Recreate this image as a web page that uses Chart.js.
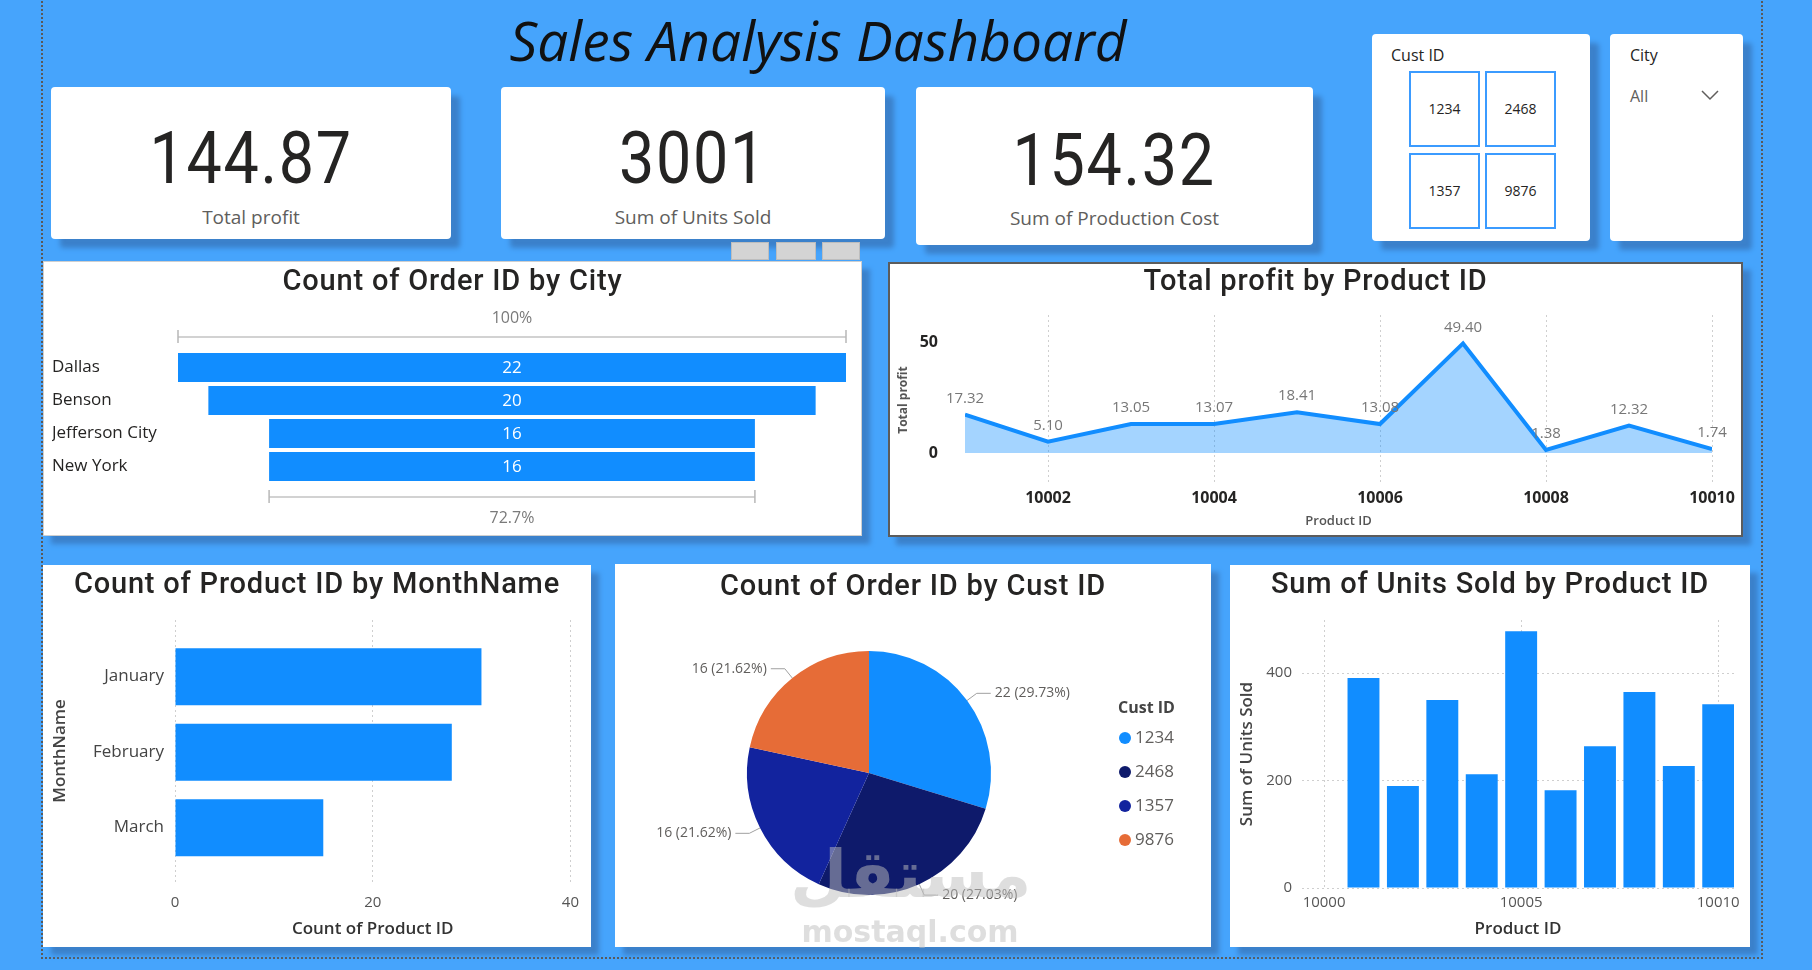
<!DOCTYPE html>
<html lang="en">
<head>
<meta charset="UTF-8">
<title>Sales Analysis Dashboard</title>
<script src="https://cdn.jsdelivr.net/npm/chart.js"></script>
<style>
  body { margin: 0; width: 1812px; height: 970px; background: #46a4fc; position: relative; overflow: hidden;
         font-family: "Segoe UI", "Open Sans", "Noto Sans", sans-serif; }
  .frame { position: absolute; left: 41px; top: -4px; width: 1718px; height: 961px; border: 2px dotted #5a5a5a; border-top: none; }
  .card { position: absolute; background: #fff; border-radius: 4px; box-shadow: 9px 9px 5px #3b81cb; }
  .kpi { position: absolute; left: 0; right: 0; text-align: center; font-family: Roboto, sans-serif; font-weight: 400;
         font-size: 73px; height: 80px; line-height: 80px; color: #252423; }
  .kpi span { display: inline-block; transform: scaleX(0.86); letter-spacing: 2px; }
  .kpi-label { position: absolute; left: 0; right: 0; text-align: center; font-size: 19px; height: 28px; line-height: 28px; color: #605e5c; }
  .panel { position: absolute; background: #fff; box-shadow: 8px 8px 5px #3b81cb; }
  .panel canvas { position: absolute; left: 0; top: 0; }
  .ptitle { position: absolute; left: 0; right: 0; text-align: center; font-family: Roboto, sans-serif; font-size: 29px;
            font-weight: 500; letter-spacing: 0.8px; height: 34px; line-height: 34px; color: #252423; }
  .tile { position: absolute; width: 67px; height: 72px; border: 2px solid #3b9bff; text-align: center; line-height: 72px;
          font-size: 14px; color: #252423; background: #fff; }
  .icon { position: absolute; top: 242px; height: 16px; background: #d4d4d4; border: 1px solid #bdbdbd; }
  .legend-item { position: absolute; left: 504px; font-size: 17px; color: #605e5c; height: 24px; line-height: 24px; }
  .legend-item span { display: inline-block; width: 12px; height: 12px; border-radius: 50%; margin-right: 4px; vertical-align: -1px; }
</style>
</head>
<body>

<div class="frame"></div>

<div style="position:absolute;left:418px;top:5px;width:800px;height:70px;line-height:70px;text-align:center;font-family:'Open Sans',sans-serif;font-style:italic;font-size:55px;color:#111;">Sales Analysis Dashboard</div>

<div class="card" style="left:51px;top:87px;width:400px;height:152px;">
  <div class="kpi" style="top:31px;"><span>144.87</span></div>
  <div class="kpi-label" style="top:116px;">Total profit</div>
</div>
<div class="card" style="left:501px;top:87px;width:384px;height:152px;">
  <div class="kpi" style="top:31px;"><span>3001</span></div>
  <div class="kpi-label" style="top:116px;">Sum of Units Sold</div>
</div>
<div class="card" style="left:916px;top:87px;width:397px;height:158px;">
  <div class="kpi" style="top:33px;"><span>154.32</span></div>
  <div class="kpi-label" style="top:117px;">Sum of Production Cost</div>
</div>

<div class="card" style="left:1372px;top:34px;width:218px;height:207px;">
  <div style="position:absolute;left:19px;top:10px;font-size:16px;color:#252423;">Cust ID</div>
  <div class="tile" style="left:37px;top:37px;">1234</div>
  <div class="tile" style="left:113px;top:37px;">2468</div>
  <div class="tile" style="left:37px;top:119px;">1357</div>
  <div class="tile" style="left:113px;top:119px;">9876</div>
</div>
<div class="card" style="left:1610px;top:34px;width:133px;height:207px;">
  <div style="position:absolute;left:20px;top:10px;font-size:16px;color:#252423;">City</div>
  <div style="position:absolute;left:20px;top:51px;font-size:16px;color:#605e5c;">All</div>
  <svg style="position:absolute;left:91px;top:55px;" width="18" height="12"><polyline points="1,2 9,10 17,2" fill="none" stroke="#605e5c" stroke-width="1.5"/></svg>
</div>

<div class="icon" style="left:731px;width:36px;"></div>
<div class="icon" style="left:776px;width:38px;"></div>
<div class="icon" style="left:822px;width:36px;"></div>

<div class="panel" style="left:43px;top:261px;width:819px;height:275px;outline:1px solid #cfcfcf;outline-offset:-1px;">
  <canvas id="funnelChart" width="819" height="275"></canvas>
  <div class="ptitle" style="top:2px;">Count of Order ID by City</div>
</div>

<div class="panel" style="left:888px;top:262px;width:855px;height:275px;outline:2px solid #5c5c5c;outline-offset:-2px;">
  <canvas id="profitChart" width="855" height="275"></canvas>
  <div class="ptitle" style="top:1px;">Total profit by Product ID</div>
</div>

<div class="panel" style="left:43px;top:565px;width:548px;height:382px;">
  <canvas id="monthChart" width="548" height="382"></canvas>
  <div class="ptitle" style="top:1px;">Count of Product ID by MonthName</div>
</div>

<div class="panel" style="left:615px;top:564px;width:596px;height:383px;">
  <canvas id="custChart" width="596" height="383"></canvas>
  <div class="ptitle" style="top:4px;">Count of Order ID by Cust ID</div>
  <div id="custLegend"></div>
</div>

<div class="panel" style="left:1230px;top:565px;width:520px;height:382px;">
  <canvas id="unitsChart" width="520" height="382"></canvas>
  <div class="ptitle" style="top:1px;">Sum of Units Sold by Product ID</div>
</div>

<!-- watermark over the pie panel -->
<div style="position:absolute;left:790px;top:835px;width:240px;text-align:center;pointer-events:none;color:rgba(190,190,190,0.5);">
  <div style="font-family:'DejaVu Sans',sans-serif;font-weight:bold;font-size:66px;line-height:80px;">مستقل</div>
  <div style="font-family:'DejaVu Sans',sans-serif;font-weight:bold;font-size:30px;line-height:34px;">mostaql.com</div>
</div>

<script>
    // ---- data ----
    const cities = ['Dallas', 'Benson', 'Jefferson City', 'New York'];
    const cityOrders = [22, 20, 16, 16];

    const productIds = [10001, 10002, 10003, 10004, 10005, 10006, 10007, 10008, 10009, 10010];
    const profit = [17.32, 5.10, 13.05, 13.07, 18.41, 13.08, 49.40, 1.38, 12.32, 1.74];
    const profitTicksX = [10002, 10004, 10006, 10008, 10010];
    const profitTicksY = [0, 50];

    const months = ['January', 'February', 'March'];
    const monthCounts = [31, 28, 15];
    const monthTicks = [0, 20, 40];

    const custIds = ['1234', '2468', '1357', '9876'];
    const custOrders = [22, 20, 16, 16];
    const custColors = ['#118DFF', '#0E1A6B', '#12239E', '#E66C37'];

    const unitsSold = [391, 190, 350, 212, 478, 182, 264, 365, 227, 342];
    const unitsTicksX = [10000, 10005, 10010];
    const unitsTicksY = [0, 200, 400];

    const BLUE = '#118DFF';
    const FONT = '"Segoe UI", "Open Sans", "Noto Sans", sans-serif';

    Chart.defaults.font.family = FONT;
    Chart.defaults.color = '#605e5c';
    Chart.defaults.animation = false;
    Chart.defaults.responsive = false;
    Chart.defaults.plugins.legend.display = false;
    Chart.defaults.plugins.tooltip.enabled = false;

    const setTicks = vals => scale => { scale.ticks = vals.map(v => ({ value: v })); };
    // dotted grid: in v4 the dash of grid lines lives under border
    const dotted = { color: '#cfcfcf', lineWidth: 1, drawTicks: false };
    const dottedBorder = { display: false, dash: [2, 3] };

    // ---- funnel: count of order id by city ----
    function drawBracket(ctx, x1, x2, y) {
        ctx.strokeStyle = '#d2d2d2';
        ctx.lineWidth = 2;
        ctx.beginPath(); ctx.moveTo(x1, y); ctx.lineTo(x2, y); ctx.stroke();
        ctx.strokeStyle = '#b8b8b8';
        ctx.lineWidth = 1.5;
        ctx.beginPath();
        ctx.moveTo(x1, y - 7); ctx.lineTo(x1, y + 6);
        ctx.moveTo(x2, y - 7); ctx.lineTo(x2, y + 6);
        ctx.stroke();
    }

    const funnelLabels = {
        id: 'funnelLabels',
        afterDatasetsDraw(chart) {
            const { ctx, chartArea } = chart;
            const x = chart.scales.x;
            const bars = chart.getDatasetMeta(0).data;
            ctx.save();
            ctx.font = '17px ' + FONT;
            ctx.textAlign = 'center';
            ctx.textBaseline = 'middle';
            ctx.fillStyle = '#ffffff';
            bars.forEach((b, i) => ctx.fillText(cityOrders[i], x.getPixelForValue(0), b.y + 1));

            const first = cityOrders[0];
            const last = cityOrders[cityOrders.length - 1];
            drawBracket(ctx, x.getPixelForValue(-first / 2), x.getPixelForValue(first / 2), chartArea.top - 14);
            drawBracket(ctx, x.getPixelForValue(-last / 2), x.getPixelForValue(last / 2), chartArea.bottom + 14);
            ctx.fillStyle = '#7a7a7a';
            ctx.font = '16px ' + FONT;
            ctx.fillText('100%', x.getPixelForValue(0), chartArea.top - 33);
            ctx.fillText((last / first * 100).toFixed(1) + '%', x.getPixelForValue(0), chartArea.bottom + 35);
            ctx.restore();
        }
    };

    const funnelHalf = Math.max(...cityOrders) / 2;
    new Chart(document.getElementById('funnelChart'), {
        type: 'bar',
        data: {
            labels: cities,
            datasets: [{
                data: cityOrders.map(v => [-v / 2, v / 2]),
                backgroundColor: BLUE,
                borderWidth: 0,
                barPercentage: 0.88,
                categoryPercentage: 1
            }]
        },
        options: {
            indexAxis: 'y',
            layout: { padding: { left: 9, right: 16, top: 90, bottom: 53 } },
            scales: {
                x: { display: false, min: -funnelHalf, max: funnelHalf },
                y: {
                    grid: { display: false, drawTicks: false },
                    border: { display: false },
                    ticks: { crossAlign: 'far', color: '#252423', font: { size: 17 }, padding: 0 },
                    afterFit: s => { s.width = 126; }
                }
            }
        },
        plugins: [funnelLabels]
    });

    // ---- line: total profit by product id ----
    const pointLabels = {
        id: 'pointLabels',
        afterDatasetsDraw(chart) {
            const { ctx } = chart;
            const pts = chart.getDatasetMeta(0).data;
            ctx.save();
            ctx.font = '15px ' + FONT;
            ctx.fillStyle = '#777777';
            ctx.textAlign = 'center';
            ctx.textBaseline = 'middle';
            pts.forEach((p, i) => ctx.fillText(profit[i].toFixed(2), p.x, p.y - 16));
            ctx.restore();
        }
    };

    new Chart(document.getElementById('profitChart'), {
        type: 'line',
        data: {
            datasets: [{
                data: productIds.map((id, i) => ({ x: id, y: profit[i] })),
                borderColor: BLUE,
                borderWidth: 4,
                backgroundColor: 'rgba(17,141,255,0.38)',
                fill: 'origin',
                pointRadius: 0,
                tension: 0
            }]
        },
        options: {
            layout: { padding: { left: 6, right: 31, top: 53, bottom: 0 } },
            scales: {
                x: {
                    type: 'linear',
                    min: productIds[0],
                    max: productIds[productIds.length - 1],
                    afterBuildTicks: setTicks(profitTicksX),
                    afterFit: s => { s.height = 52; },
                    grid: { ...dotted },
                    border: { ...dottedBorder },
                    ticks: { padding: 4, color: '#252423', font: { size: 16, weight: 'bold' }, callback: v => String(v) },
                    title: { display: true, text: 'Product ID', color: '#555', font: { size: 13, weight: '600' }, padding: { top: 0, bottom: 8 } }
                },
                y: {
                    min: -14.4,
                    max: 62.2,
                    afterBuildTicks: setTicks(profitTicksY),
                    afterFit: s => { s.width = 71; },
                    grid: { display: false, drawTicks: false },
                    border: { display: false },
                    ticks: { padding: 27, color: '#252423', font: { size: 16, weight: 'bold' } },
                    title: { display: true, text: 'Total profit', color: '#555', font: { size: 12, weight: 'bold' }, padding: { top: 2, bottom: 0 } }
                }
            }
        },
        plugins: [pointLabels]
    });

    // ---- horizontal bar: count of product id by month ----
    new Chart(document.getElementById('monthChart'), {
        type: 'bar',
        data: {
            datasets: [{
                data: monthCounts.map((v, i) => ({ x: v, y: i })),
                backgroundColor: BLUE,
                borderWidth: 0,
                barPercentage: 0.755,
                categoryPercentage: 1
            }]
        },
        options: {
            indexAxis: 'y',
            layout: { padding: { left: 4, right: 16, top: 55, bottom: 0 } },
            scales: {
                x: {
                    type: 'linear',
                    min: monthTicks[0],
                    max: monthTicks[monthTicks.length - 1],
                    afterBuildTicks: setTicks(monthTicks),
                    afterFit: s => { s.height = 65; },
                    grid: { ...dotted, offset: false },
                    border: { ...dottedBorder },
                    ticks: { padding: 12, color: '#555', font: { size: 15 } },
                    title: { display: true, text: 'Count of Product ID', color: '#333', font: { size: 17, weight: '600' }, padding: { top: 0, bottom: 8 } }
                },
                y: {
                    type: 'linear',
                    reverse: true,
                    offset: false,
                    min: -0.75,
                    max: 2.72,
                    afterBuildTicks: setTicks(months.map((m, i) => i)),
                    afterFit: s => { s.width = 128; },
                    grid: { display: false, drawTicks: false, offset: false },
                    border: { display: false },
                    ticks: { padding: 11, color: '#444', font: { size: 17 }, callback: v => months[v] },
                    title: { display: true, text: 'MonthName', color: '#444', font: { size: 17, weight: '600' }, padding: { top: 3, bottom: 0 } }
                }
            }
        }
    });

    // ---- pie: count of order id by cust id ----
    const pieLabels = {
        id: 'pieLabels',
        afterDatasetsDraw(chart) {
            const { ctx } = chart;
            const arcs = chart.getDatasetMeta(0).data;
            const total = custOrders.reduce((a, b) => a + b, 0);
            ctx.save();
            ctx.font = '14px ' + FONT;
            ctx.textBaseline = 'middle';
            arcs.forEach((a, i) => {
                const mid = (a.startAngle + a.endAngle) / 2;
                const r = a.outerRadius;
                const cos = Math.cos(mid), sin = Math.sin(mid);
                const x0 = a.x + cos * r, y0 = a.y + sin * r;
                const x1 = a.x + cos * (r + 12), y1 = a.y + sin * (r + 12);
                const dir = cos >= 0 ? 1 : -1;
                const x2 = x1 + dir * 14;
                ctx.strokeStyle = '#a0a0a0';
                ctx.lineWidth = 1;
                ctx.beginPath(); ctx.moveTo(x0, y0); ctx.lineTo(x1, y1); ctx.lineTo(x2, y1); ctx.stroke();
                ctx.fillStyle = '#605e5c';
                ctx.textAlign = dir > 0 ? 'left' : 'right';
                const txt = custOrders[i] + ' (' + (custOrders[i] / total * 100).toFixed(2) + '%)';
                ctx.fillText(txt, x2 + dir * 4, y1);
            });
            ctx.restore();
        }
    };

    new Chart(document.getElementById('custChart'), {
        type: 'pie',
        data: {
            labels: custIds,
            datasets: [{ data: custOrders, backgroundColor: custColors, borderWidth: 0 }]
        },
        options: {
            layout: { padding: { left: 132, right: 220, top: 87, bottom: 52 } }
        },
        plugins: [pieLabels]
    });

    // html legend for the pie
    const legend = document.getElementById('custLegend');
    legend.innerHTML = '<div style="position:absolute;left:503px;top:132px;font-size:16px;font-weight:bold;color:#444;">Cust ID</div>' +
        custIds.map((id, i) =>
            '<div class="legend-item" style="top:' + (161 + i * 34) + 'px;"><span style="background:' + custColors[i] + '"></span>' + id + '</div>'
        ).join('');

    // ---- column: sum of units sold by product id ----
    new Chart(document.getElementById('unitsChart'), {
        type: 'bar',
        data: {
            datasets: [{
                data: productIds.map((id, i) => ({ x: id, y: unitsSold[i] })),
                backgroundColor: BLUE,
                borderWidth: 0,
                barPercentage: 0.81,
                categoryPercentage: 1
            }]
        },
        options: {
            layout: { padding: { left: 3, right: 16, top: 55, bottom: 0 } },
            scales: {
                x: {
                    type: 'linear',
                    offset: false,
                    min: 9999.44,
                    max: 10010.4,
                    afterBuildTicks: setTicks(unitsTicksX),
                    afterFit: s => { s.height = 59; },
                    grid: { ...dotted, offset: false },
                    border: { ...dottedBorder },
                    ticks: { padding: 6, color: '#555', font: { size: 15 }, callback: v => String(v) },
                    title: { display: true, text: 'Product ID', color: '#333', font: { size: 17, weight: '600' }, padding: { top: 0, bottom: 8 } }
                },
                y: {
                    min: 0,
                    max: 499,
                    afterBuildTicks: setTicks(unitsTicksY),
                    afterFit: s => { s.width = 69; },
                    grid: { ...dotted },
                    border: { ...dottedBorder },
                    ticks: { padding: 10, color: '#555', font: { size: 15 } },
                    title: { display: true, text: 'Sum of Units Sold', color: '#444', font: { size: 17, weight: '600' }, padding: { top: 4, bottom: 0 } }
                }
            }
        }
    });
</script>
</body>
</html>
